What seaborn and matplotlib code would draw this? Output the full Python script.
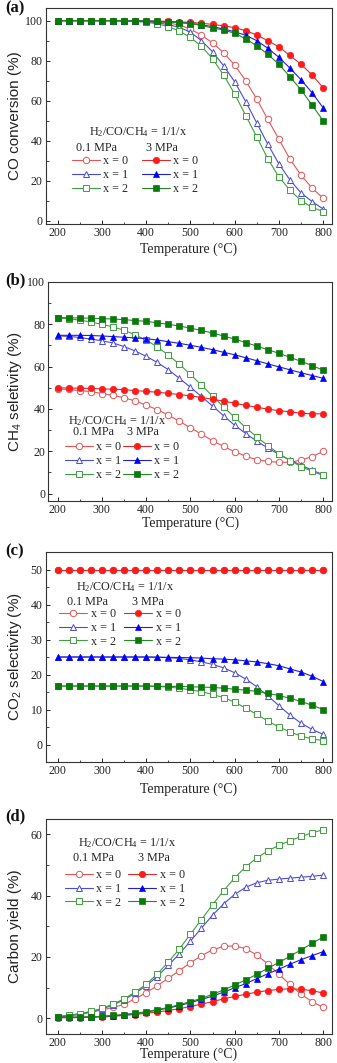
import numpy as np
import pandas as pd
import matplotlib
matplotlib.use("Agg")
import matplotlib.pyplot as plt
import seaborn as sns
from matplotlib.ticker import MultipleLocator

# ---------------- data ----------------
temperature = [200, 225, 250, 275, 300, 325, 350, 375, 400, 425, 450, 475, 500,
               525, 550, 575, 600, 625, 650, 675, 700, 725, 750, 775, 800]
series_labels = ["x = 0", "x = 1", "x = 2"]

# (a) CO conversion (%)
co_conv_01_x0 = [100, 100, 100, 100, 100, 100, 99.9, 99.8, 99.6, 99.3, 98.8, 97.8, 95.8,
                 92.7, 88.9, 84.0, 77.8, 70.0, 60.8, 50.7, 40.8, 30.9, 22.9, 16.4, 11.4]
co_conv_01_x1 = [100, 100, 100, 100, 100, 100, 99.9, 99.7, 99.4, 98.9, 98.0, 96.6, 94.3,
                 90.0, 84.5, 77.5, 69.5, 59.6, 48.9, 38.3, 28.5, 20.5, 14.0, 9.7, 6.0]
co_conv_01_x2 = [100, 100, 100, 100, 100, 100, 99.8, 99.6, 99.2, 98.4, 97.0, 94.8, 91.6,
                 87.2, 81.0, 72.9, 63.4, 52.6, 42.0, 31.0, 22.0, 15.4, 10.2, 6.8, 4.7]
co_conv_3_x0 = [100, 100, 100, 100, 100, 100, 100, 99.9, 99.9, 99.8, 99.6, 99.4, 99.1,
                98.7, 98.1, 97.4, 96.5, 95.0, 92.8, 90.0, 86.9, 82.6, 78.2, 72.9, 66.5]
co_conv_3_x1 = [100, 100, 100, 100, 100, 100, 100, 99.9, 99.8, 99.6, 99.4, 99.1, 98.6,
                97.9, 97.0, 95.8, 94.4, 92.7, 90.0, 86.2, 81.7, 76.3, 70.5, 64.0, 56.5]
co_conv_3_x2 = [100, 100, 100, 100, 100, 100, 100, 99.9, 99.8, 99.6, 99.3, 99.0, 98.5,
                97.6, 96.3, 95.3, 93.7, 90.9, 87.4, 83.2, 78.2, 72.0, 65.4, 57.9, 50.0]

# (b) CH4 selectivity (%)
ch4_sel_01_x0 = [49.5, 49.2, 48.7, 48.2, 47.3, 46.4, 45.3, 43.8, 41.8, 39.7, 37.1, 34.2, 31.1,
                 28.1, 25.0, 22.3, 19.8, 17.7, 16.0, 15.2, 14.8, 14.8, 15.8, 17.5, 19.9]
ch4_sel_01_x1 = [74.5, 74.3, 73.8, 73.0, 72.2, 71.2, 69.5, 67.4, 64.9, 62.0, 58.6, 54.5, 50.3,
                 45.9, 41.4, 36.8, 32.3, 28.4, 24.8, 21.5, 18.6, 15.9, 13.4, 11.1, 8.9]
ch4_sel_01_x2 = [83.0, 82.6, 82.0, 81.1, 80.0, 78.8, 77.2, 75.1, 72.5, 69.4, 65.5, 61.2, 56.3,
                 51.3, 46.1, 41.0, 36.0, 31.2, 26.8, 22.7, 18.9, 15.6, 12.8, 10.5, 8.6]
ch4_sel_3_x0 = [50.0, 49.9, 49.8, 49.7, 49.5, 49.3, 49.1, 48.7, 48.3, 47.9, 47.4, 46.8, 46.2,
                45.4, 44.6, 43.7, 42.7, 41.7, 40.8, 39.9, 39.2, 38.6, 38.0, 37.7, 37.7]
ch4_sel_3_x1 = [74.8, 74.8, 74.8, 74.7, 74.5, 74.2, 73.9, 73.6, 73.2, 72.6, 71.8, 71.0, 70.1,
                69.1, 68.0, 66.8, 65.6, 64.2, 62.8, 61.3, 59.9, 58.5, 57.1, 55.8, 54.5]
ch4_sel_3_x2 = [83.2, 83.1, 83.0, 82.9, 82.7, 82.5, 82.2, 81.8, 81.4, 80.7, 80.0, 79.2, 78.2,
                77.1, 75.9, 74.5, 73.0, 71.4, 69.7, 68.0, 66.3, 64.4, 62.5, 60.5, 58.3]

# (c) CO2 selectivity (%)
co2_sel_01_x0 = [50.0] * 25
co2_sel_01_x1 = [25.0, 25.0, 25.0, 25.0, 25.0, 25.0, 25.0, 25.0, 25.0, 24.95, 24.8, 24.6, 24.2,
                 23.6, 22.9, 21.9, 20.5, 18.7, 16.5, 13.9, 11.1, 8.4, 6.1, 4.3, 2.9]
co2_sel_01_x2 = [16.7, 16.7, 16.7, 16.7, 16.7, 16.7, 16.7, 16.7, 16.7, 16.6, 16.4, 16.1, 15.6,
                 15.1, 14.3, 13.4, 12.1, 10.4, 8.6, 6.7, 5.0, 3.6, 2.4, 1.6, 1.1]
co2_sel_3_x0 = [50.0] * 25
co2_sel_3_x1 = [25.0, 25.0, 25.0, 25.0, 25.0, 25.0, 25.0, 25.0, 25.0, 24.95, 24.9, 24.85, 24.8,
                24.7, 24.5, 24.4, 24.2, 23.9, 23.6, 23.1, 22.5, 21.6, 20.7, 19.5, 18.0]
co2_sel_3_x2 = [16.7, 16.7, 16.7, 16.7, 16.7, 16.7, 16.7, 16.7, 16.7, 16.65, 16.6, 16.6, 16.5,
                16.4, 16.3, 16.1, 15.8, 15.5, 15.2, 14.6, 14.0, 13.2, 12.3, 11.2, 10.0]

# (d) Carbon yield (%)
cy_01_x0 = [0.4, 0.7, 1.2, 1.9, 2.7, 3.5, 4.5, 6.3, 8.3, 10.6, 13.0, 15.5, 18.1,
            20.4, 22.3, 23.4, 23.6, 22.7, 20.6, 17.7, 14.3, 11.0, 7.8, 5.4, 3.5]
cy_01_x1 = [0.5, 0.9, 1.4, 2.1, 3.0, 4.3, 6.0, 8.1, 10.6, 13.6, 17.2, 21.0, 25.1,
            29.4, 33.6, 37.3, 40.4, 42.7, 44.2, 45.0, 45.4, 45.7, 46.0, 46.3, 46.7]
cy_01_x2 = [0.5, 0.9, 1.5, 2.2, 3.2, 4.6, 6.3, 8.5, 11.1, 14.4, 18.3, 22.6, 27.4,
            32.2, 37.0, 41.6, 45.8, 49.4, 52.3, 54.6, 56.4, 57.9, 59.3, 60.5, 61.5]
cy_3_x0 = [0.1, 0.15, 0.2, 0.3, 0.4, 0.6, 0.9, 1.2, 1.6, 2.0, 2.5, 3.1, 3.8,
           4.6, 5.4, 6.3, 7.1, 7.8, 8.5, 9.0, 9.4, 9.6, 9.4, 9.0, 8.2]
cy_3_x1 = [0.3, 0.3, 0.35, 0.4, 0.6, 0.8, 1.1, 1.5, 2.0, 2.6, 3.3, 4.1, 5.1,
           6.1, 7.2, 8.5, 9.9, 11.3, 12.9, 14.5, 16.0, 17.6, 19.1, 20.4, 21.7]
cy_3_x2 = [0.3, 0.3, 0.35, 0.4, 0.6, 0.9, 1.2, 1.6, 2.1, 2.8, 3.5, 4.4, 5.4,
           6.5, 7.8, 9.2, 10.8, 12.5, 14.3, 16.3, 18.2, 20.2, 22.3, 24.4, 26.5]

panel_tags = ["(a)", "(b)", "(c)", "(d)"]
y_labels = ["CO conversion (%)", "CH$_4$ seletivity (%)",
            "CO$_2$ selectivity (%)", "Carbon yield (%)"]
x_label = "Temperature (\u00b0C)"
legend_title = "H$_2$/CO/CH$_4$ = 1/1/x"
pressure_labels = ["0.1 MPa", "3 MPa"]

panel_data = [
    [co_conv_01_x0, co_conv_01_x1, co_conv_01_x2, co_conv_3_x0, co_conv_3_x1, co_conv_3_x2],
    [ch4_sel_01_x0, ch4_sel_01_x1, ch4_sel_01_x2, ch4_sel_3_x0, ch4_sel_3_x1, ch4_sel_3_x2],
    [co2_sel_01_x0, co2_sel_01_x1, co2_sel_01_x2, co2_sel_3_x0, co2_sel_3_x1, co2_sel_3_x2],
    [cy_01_x0, cy_01_x1, cy_01_x2, cy_3_x0, cy_3_x1, cy_3_x2],
]

# ---------------- style ----------------
sns.set_theme(style="ticks")
plt.rcParams["font.family"] = ["Liberation Serif", "DejaVu Serif"]
plt.rcParams["mathtext.default"] = "regular"
plt.rcParams["axes.edgecolor"] = "#333333"
plt.rcParams["axes.linewidth"] = 0.8

W, H = 337, 1063
fig = plt.figure(figsize=(W / 100, H / 100), dpi=100)

markers = ["o", "^", "s"]
open_colors = ["#e35555", "#4a4ad8", "#3f9f3f"]
fill_colors = ["#ff1a1a", "#0000ff", "#0a7a0a"]
line_colors_fill = ["#dd2a2a", "#2222cc", "#238a23"]

# axes boxes in pixels: left, top, right, bottom
boxes = [(45.7, 8, 332, 224), (48.3, 282, 332, 501),
         (45.7, 552, 332, 762), (45.7, 819, 332, 1033.5)]
xlims = [(173, 820), (179, 820), (173, 820), (173, 820)]
ylims = [(-1.5, 106.3), (-3.5, 100), (-5, 55), (-5, 65)]
ymajor = [20, 20, 10, 20]
yminor = [10, 10, 5, 10]
xlabel_center_px = [249, 523.5, 789, 1054.5]
ylabel_x = [15, 15, 15, 15]
tag_y = [8, 280, 551, 816]
# legend layout (pixels): handle start x, top of first row, column spacing,
# title center (x, y), header lefts, header y
legend_layout = [
    dict(hx=72, top=155.5, cs=1.1, tx=138, ty=131.7, h1=76, h2=146, hy=148),
    dict(hx=65, top=441.5, cs=0.1, tx=116.7, ty=420.7, h1=72.7, h2=126.7, hy=431.7),
    dict(hx=59.3, top=608, cs=0.7, tx=125, ty=586.7, h1=66.7, h2=131.7, hy=601.7),
    dict(hx=65, top=869, cs=0.55, tx=126.7, ty=843.3, h1=72.7, h2=138.3, hy=858.3),
]

for i in range(4):
    l, t, r, b = boxes[i]
    ax = fig.add_axes([l / W, 1 - b / H, (r - l) / W, (b - t) / H])
    series = panel_data[i]
    # open markers (0.1 MPa) first, filled (3 MPa) on top
    for k in range(3):
        df = pd.DataFrame({"T": temperature, "v": series[k]})
        sns.lineplot(data=df, x="T", y="v", ax=ax, color=open_colors[k],
                     marker=markers[k], markersize=4.6, markerfacecolor="white",
                     markeredgecolor=open_colors[k], markeredgewidth=0.7,
                     linewidth=0.8, label=series_labels[k], errorbar=None)
    for k in range(3):
        df = pd.DataFrame({"T": temperature, "v": series[3 + k]})
        sns.lineplot(data=df, x="T", y="v", ax=ax, color=line_colors_fill[k],
                     marker=markers[k], markersize=4.6, markerfacecolor=fill_colors[k],
                     markeredgecolor=fill_colors[k], markeredgewidth=0.5,
                     linewidth=0.8, label=series_labels[k], errorbar=None)
    ax.set_xlim(*xlims[i])
    ax.set_ylim(*ylims[i])
    ax.xaxis.set_major_locator(MultipleLocator(100))
    ax.xaxis.set_minor_locator(MultipleLocator(50))
    ax.yaxis.set_major_locator(MultipleLocator(ymajor[i]))
    ax.yaxis.set_minor_locator(MultipleLocator(yminor[i]))
    ax.tick_params(which="major", direction="in", length=3, width=0.7,
                   labelsize=8.6, pad=2.2, colors="#222222")
    ax.tick_params(which="minor", direction="in", length=1.8, width=0.6)
    ax.set_xlabel(x_label, fontsize=10, color="#222222")
    ax.set_ylabel(y_labels[i], fontsize=11, family=["Liberation Sans", "DejaVu Sans"],
                  color="#222222")
    ax.xaxis.label.set_va("center")
    ax.xaxis.set_label_coords(0.5, (b - xlabel_center_px[i]) / (b - t))
    ax.yaxis.set_label_coords((ylabel_x[i] - l) / (r - l), 0.5)
    ax.yaxis.label.set_va("center")

    lay = legend_layout[i]
    handles, labels = ax.get_legend_handles_labels()
    ax.legend(handles, labels, ncol=2, loc="upper left",
              bbox_to_anchor=(lay["hx"] / W, 1 - lay["top"] / H),
              bbox_transform=fig.transFigure, frameon=False, fontsize=8.7,
              borderpad=0, borderaxespad=0, handlelength=2.3, handletextpad=0.3,
              columnspacing=lay["cs"], labelspacing=0.15)
    fig.text(lay["tx"] / W, 1 - lay["ty"] / H, legend_title, fontsize=8.7,
             ha="center", va="center", color="#222222")
    fig.text(lay["h1"] / W, 1 - lay["hy"] / H, pressure_labels[0], fontsize=8.7,
             ha="left", va="center", color="#222222")
    fig.text(lay["h2"] / W, 1 - lay["hy"] / H, pressure_labels[1], fontsize=8.7,
             ha="left", va="center", color="#222222")
    fig.text(5 / W, 1 - tag_y[i] / H, panel_tags[i], fontsize=12, fontweight="bold",
             ha="left", va="center", color="#111111")

fig.savefig("out.png", dpi=100)
